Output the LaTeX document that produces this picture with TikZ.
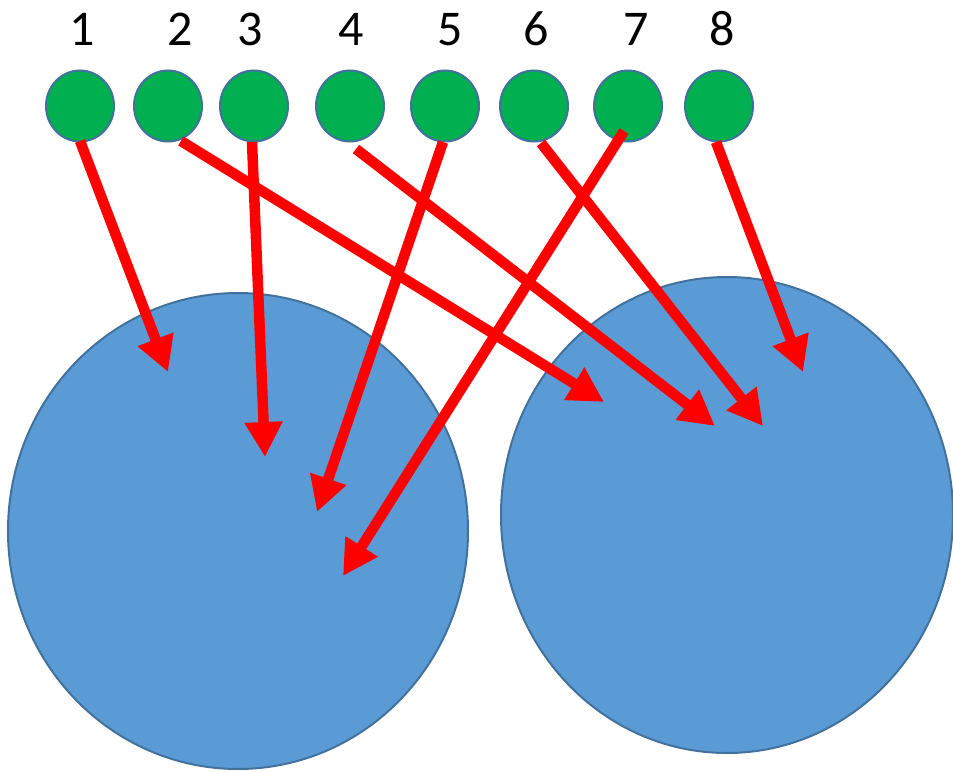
\documentclass[tikz,border=0pt]{standalone}
\usepackage{fontspec}
\setmainfont{Carlito}
\usetikzlibrary{arrows.meta,shapes.geometric}
\definecolor{dotgreen}{HTML}{00B050}
\definecolor{edgeblue}{HTML}{41719C}
\definecolor{setblue}{HTML}{5B9BD5}
\definecolor{arrowred}{HTML}{FF0000}
\begin{document}
\begin{tikzpicture}[x=1pt,y=-1pt,
  dot/.style={ellipse,draw=edgeblue,line width=2pt,fill=dotgreen,minimum width=68pt,minimum height=71pt,inner sep=0pt},
  setnode/.style={ellipse,draw=edgeblue,line width=2pt,fill=setblue,inner sep=0pt},
  lbl/.style={anchor=base,font=\fontsize{50}{50}\selectfont,inner sep=0pt},
  mapto/.style={draw=arrowred,line width=10.5pt,-{Triangle[width=36pt,length=35pt]}}]
\useasboundingbox (0,0) rectangle (953,771);
% labels
\node[lbl] (l1) at (82,45) {1};
\node[lbl] (l2) at (180,45) {2};
\node[lbl] (l3) at (250,45) {3};
\node[lbl] (l4) at (351,45) {4};
\node[lbl] (l5) at (450,45) {5};
\node[lbl] (l6) at (536,45) {6};
\node[lbl] (l7) at (636,45) {7};
\node[lbl] (l8) at (722,45) {8};
% small circles
\node[dot] (c1) at (80,106) {};
\node[dot] (c2) at (168,106) {};
\node[dot] (c3) at (254,106) {};
\node[dot] (c4) at (350,106) {};
\node[dot] (c5) at (445,106) {};
\node[dot] (c6) at (534,106) {};
\node[dot] (c7) at (628,106) {};
\node[dot] (c8) at (719,106) {};
% big sets
\node[setnode,minimum width=460pt,minimum height=476pt] (A) at (238,531) {};
\node[setnode,minimum width=452pt,minimum height=476pt] (B) at (727,515) {};
% arrow coordinates
\coordinate (s1) at (80,141);
\coordinate (s2) at (181,141);
\coordinate (s3) at (252,142);
\coordinate (s4) at (356,149);
\coordinate (s5) at (443,142);
\coordinate (s6) at (541,143);
\coordinate (s7) at (624,131);
\coordinate (s8) at (716,142);
\coordinate (e1) at (168,372);
\coordinate (e2) at (604,402);
\coordinate (e3) at (265,457);
\coordinate (e4) at (715,426);
\coordinate (e5) at (317,512);
\coordinate (e6) at (763,426);
\coordinate (e7) at (343,576);
\coordinate (e8) at (803,372);
\foreach \i in {1,...,8} {\draw[mapto] (s\i) -- (e\i);}
\end{tikzpicture}
\end{document}
